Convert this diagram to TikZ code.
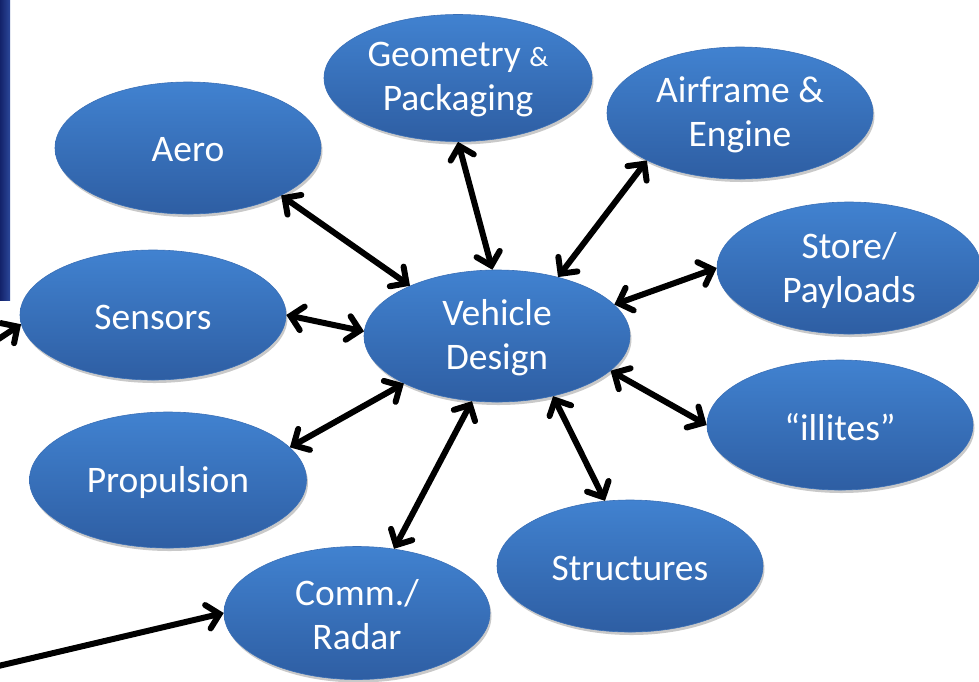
\documentclass[tikz,border=0pt]{standalone}
\usepackage{fontspec}
\setmainfont{Carlito}
\usetikzlibrary{shapes.geometric,arrows.meta,shadows}
\definecolor{btop}{HTML}{4182D0}
\definecolor{bbot}{HTML}{2E5EA3}
\definecolor{bedge}{HTML}{3A6FB6}
\definecolor{navyA}{HTML}{13226A}
\definecolor{navyB}{HTML}{2B4799}
\begin{document}
\begin{tikzpicture}[x=1pt,y=-1pt,
  blob/.style={ellipse, minimum width=266pt, minimum height=132pt, inner sep=0pt,
    top color=btop, bottom color=bbot, draw=bedge, line width=0.6pt,
    drop shadow={shadow xshift=1.5pt, shadow yshift=-3pt, opacity=0.3, fill=black!70}},
  txt/.style={text=white, font=\fontsize{37.5}{44}\selectfont, align=center, yshift=-2pt},
  link/.style={line width=6pt, black,
    {Straight Barb[length=12pt,width=24pt,line width=6pt,line cap=round]}-{Straight Barb[length=12pt,width=24pt,line width=6pt,line cap=round]}},
  single/.style={line width=6pt, black,
    -{Straight Barb[length=12pt,width=24pt,line width=6pt,line cap=round]}},
]
\useasboundingbox (0,0) rectangle (979,681);
\fill[left color=navyA, right color=navyB] (0,0) rectangle (10,300);

\node[blob] (aero) at (188,148) {};
\node[blob, minimum width=268pt, minimum height=127pt] (geom) at (458,78) {};
\node[blob] (air) at (740,113) {};
\node[blob, minimum width=264pt] (store) at (849,268) {};
\node[blob, minimum height=130pt] (sens) at (153,315) {};
\node[blob] (vd) at (497,336) {};
\node[blob, minimum height=130pt] (ill) at (840,425) {};
\node[blob, minimum width=277pt, minimum height=136pt] (prop) at (168,480) {};
\node[blob] (struct) at (630,566) {};
\node[blob, minimum height=133pt] (comm) at (357,613) {};

\node[txt] (taero) at (aero) {Aero};
\node[txt] (tgeom) at (geom) {Geometry {\fontsize{28}{34}\selectfont\&}\\Packaging};
\node[txt] (tair) at (air) {Airframe \&\\Engine};
\node[txt] (tstore) at (store) {Store/\\Payloads};
\node[txt] (tsens) at (sens) {Sensors};
\node[txt] (tvd) at (vd) {Vehicle\\Design};
\node[txt] (till) at (ill) {“illites”};
\node[txt] (tprop) at (prop) {Propulsion};
\node[txt] (tstruct) at (struct) {Structures};
\node[txt] (tcomm) at (comm) {Comm./\\Radar};

\draw[link] (aero.-27) -- (vd.150);
\draw[link] (geom.-90) -- (vd.94);
\draw[link] (air.207) -- (vd.44);
\draw[link] (store.180) -- (vd.15);
\draw[link] (sens.0) -- (vd.178);
\draw[link] (ill.180) -- (vd.-17);
\draw[link] (prop.15) -- (vd.207);
\draw[link] (struct.111) -- (vd.-47);
\draw[link] (comm.60) -- (vd.249);

\coordinate (f1) at (-6,667);
\coordinate (f2) at (-6,342);
\draw[single] (f1) -- (comm.180);
\draw[single] (f2) -- (sens.184);
\end{tikzpicture}
\end{document}
